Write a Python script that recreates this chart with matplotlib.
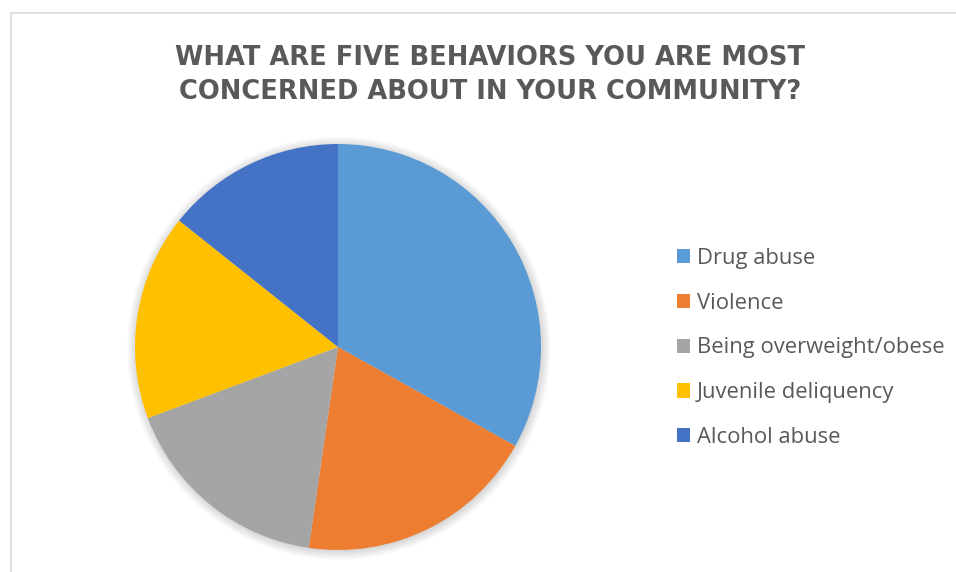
import matplotlib.pyplot as plt
from matplotlib.patches import Circle, Rectangle

# Survey responses (share of mentions)
behaviors = ["Drug abuse", "Violence", "Being overweight/obese",
             "Juvenile deliquency", "Alcohol abuse"]
shares = [33.1, 19.2, 17.0, 16.4, 14.3]
colors = ["#5B9BD5", "#ED7D31", "#A5A5A5", "#FFC000", "#4472C4"]

title = "WHAT ARE FIVE BEHAVIORS YOU ARE MOST\nCONCERNED ABOUT IN YOUR COMMUNITY?"
text_color = "#595959"

fig = plt.figure(figsize=(9.56, 5.72), dpi=100)

# light chart-area border
fig.patches.append(Rectangle((11 / 956, -0.01), 1.0, 1 - 13 / 572 + 0.01,
                             transform=fig.transFigure, fill=False,
                             edgecolor="#D9D9D9", linewidth=1.2))

fig.text(490 / 956, 1 - 75 / 572, title, ha="center", va="center",
         fontsize=18.5, fontweight="bold", color=text_color,
         family="DejaVu Sans", linespacing=1.43)

ax = fig.add_axes([135 / 956, 22 / 572, 406 / 956, 406 / 572])

# soft shadow around the pie
for i in range(8):
    ax.add_patch(Circle((0.004, -0.006), 1 + i * 0.006, color="black",
                        alpha=0.018, linewidth=0, zorder=0, clip_on=False))

wedges, _ = ax.pie(shares, colors=colors, startangle=90, counterclock=False,
                   radius=1, wedgeprops=dict(linewidth=0))
for w in wedges:
    w.set_zorder(2)
ax.set_xlim(-1, 1)
ax.set_ylim(-1, 1)
ax.set_aspect("equal")
ax.axis("off")

fig.legend(wedges, behaviors, loc="center left",
           bbox_to_anchor=(668 / 956, 1 - 348 / 572), frameon=False,
           prop=dict(family="Open Sans", size=15.8), labelcolor=text_color,
           handlelength=0.62, handleheight=0.62, handletextpad=0.28,
           labelspacing=1.08, borderaxespad=0)

fig.savefig("out.png", dpi=100)
